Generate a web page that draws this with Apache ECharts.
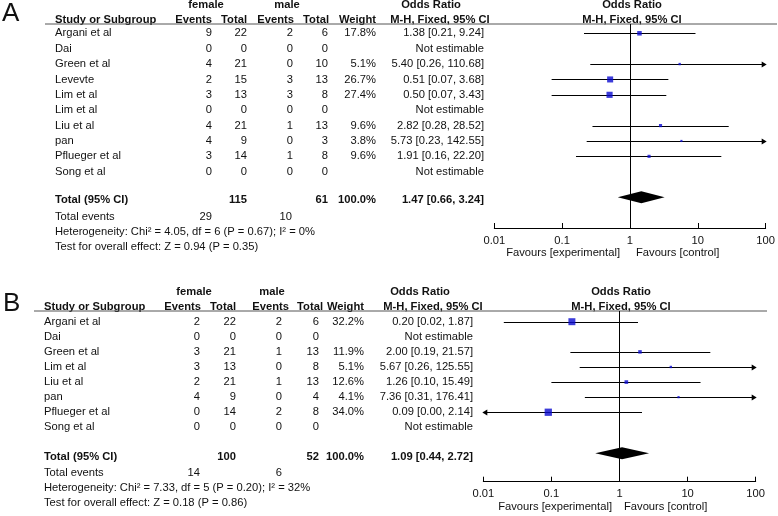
<!DOCTYPE html>
<html><head><meta charset="utf-8">
<script src="https://cdn.jsdelivr.net/npm/echarts@6/dist/echarts.min.js"></script>
<style>html,body{margin:0;padding:0;background:#fff}#c{width:778px;height:516px}</style>
</head><body><div id="c"></div>
<script>
// ---------- Panel A data ----------
const studiesA = ["Argani et al","Dai","Green et al","Levevte","Lim et al","Lim et al","Liu et al","pan","Pflueger et al","Song et al"];
const femEventsA = [9,0,4,2,3,0,4,4,3,0];
const femTotalA  = [22,0,21,15,13,0,21,9,14,0];
const maleEventsA = [2,0,0,3,3,0,1,0,1,0];
const maleTotalA  = [6,0,10,13,8,0,13,3,8,0];
const weightA = [17.8,null,5.1,26.7,27.4,null,9.6,3.8,9.6,null];
const orA = [1.38,null,5.40,0.51,0.50,null,2.82,5.73,1.91,null];
const loA = [0.21,null,0.26,0.07,0.07,null,0.28,0.23,0.16,null];
const hiA = [9.24,null,110.68,3.68,3.43,null,28.52,142.55,22.20,null];
const totalA = {fem:115, male:61, weight:100.0, or:1.47, lo:0.66, hi:3.24, evFem:29, evMale:10};
const hetA = "Heterogeneity: Chi\u00b2 = 4.05, df = 6 (P = 0.67); I\u00b2 = 0%";
const testA = "Test for overall effect: Z = 0.94 (P = 0.35)";

// ---------- Panel B data ----------
const studiesB = ["Argani et al","Dai","Green et al","Lim et al","Liu et al","pan","Pflueger et al","Song et al"];
const femEventsB = [2,0,3,3,2,4,0,0];
const femTotalB  = [22,0,21,13,21,9,14,0];
const maleEventsB = [2,0,1,0,1,0,2,0];
const maleTotalB  = [6,0,13,8,13,4,8,0];
const weightB = [32.2,null,11.9,5.1,12.6,4.1,34.0,null];
const orB = [0.20,null,2.00,5.67,1.26,7.36,0.09,null];
const loB = [0.02,null,0.19,0.26,0.10,0.31,0.00,null];
const hiB = [1.87,null,21.57,125.55,15.49,176.41,2.14,null];
const totalB = {fem:100, male:52, weight:100.0, or:1.09, lo:0.44, hi:2.72, evFem:14, evMale:6};
const hetB = "Heterogeneity: Chi\u00b2 = 7.33, df = 5 (P = 0.20); I\u00b2 = 32%";
const testB = "Test for overall effect: Z = 0.18 (P = 0.86)";

// axis tick values (log scale)
const tickLabels = [0.01, 0.1, 1, 10, 100];
const favLeft = "Favours [experimental]";
const favRight = "Favours [control]";

// ---------- layout (pixels / row units) ----------
const FONT = '"Liberation Sans", Arial, Helvetica, sans-serif';
const FS = 11.2;
const LA = {letter:'A', letterX:2, letterRow:-1.27,
  tableTop:0, tableH:258, row0:33.3, rowH:15.38,
  plotLeft:494.3, plotW:272.4, plotTop:24, plotBottom:228,
  hdr1:-1.84, hdr2:-0.865, totalRow:10.84, evRow:11.91, hetRow:12.9, testRow:13.88, favRow:14.28, diamondRow:10.66,
  nameX:55, fEvX:212, fTotX:247, mEvX:293, mTotX:328, wX:376, orX:484,
  hEv1:212, hTot1:247, hEv2:294, hTot2:329, hW:376,
  femC:206, maleC:287, orHdr1C:431, orHdr2C:440, fpHdrC:632,
  evFemX:212, evMaleX:292, favLX:620, favRX:636, ruleX1:45, ruleX2:777};
const LB = {letter:'B', letterX:3, letterRow:-1.17,
  tableTop:260, tableH:256, row0:321.7, rowH:15.09,
  plotLeft:483.3, plotW:272.4, plotTop:311, plotBottom:481.7,
  hdr1:-1.99, hdr2:-0.99, totalRow:8.99, evRow:10.05, hetRow:11.04, testRow:12.03, favRow:12.3, diamondRow:8.72,
  nameX:44, fEvX:200, fTotX:236, mEvX:282, mTotX:319, wX:364, orX:473,
  hEv1:201, hTot1:236, hEv2:289, hTot2:323, hW:364,
  femC:194, maleC:272, orHdr1C:420, orHdr2C:433, fpHdrC:621,
  evFemX:200, evMaleX:282, favLX:612, favRX:624, ruleX1:34, ruleX2:767};

const DA = {studies:studiesA, fEv:femEventsA, fTot:femTotalA, mEv:maleEventsA, mTot:maleTotalA, w:weightA, or:orA, lo:loA, hi:hiA, total:totalA, het:hetA, test:testA};
const DB = {studies:studiesB, fEv:femEventsB, fTot:femTotalB, mEv:maleEventsB, mTot:maleTotalB, w:weightB, or:orB, lo:loB, hi:hiB, total:totalB, het:hetB, test:testB};

function orText(e,l,h){ return e==null ? 'Not estimable' : e.toFixed(2)+' ['+l.toFixed(2)+', '+h.toFixed(2)+']'; }

function cells(d, L){
  const c = [];
  const add=(x,r,t,a,b,s)=>c.push({x:x,r:r,t:String(t),a:a,b:!!b,s:s||FS});
  add(L.letterX, L.letterRow, L.letter, 'left', false, 26);
  add(L.femC, L.hdr1, 'female','center',true);
  add(L.maleC, L.hdr1, 'male','center',true);
  add(L.orHdr1C, L.hdr1, 'Odds Ratio','center',true);
  add(L.fpHdrC, L.hdr1, 'Odds Ratio','center',true);
  add(L.nameX, L.hdr2, 'Study or Subgroup','left',true);
  add(L.hEv1, L.hdr2, 'Events','right',true);
  add(L.hTot1, L.hdr2, 'Total','right',true);
  add(L.hEv2, L.hdr2, 'Events','right',true);
  add(L.hTot2, L.hdr2, 'Total','right',true);
  add(L.hW, L.hdr2, 'Weight','right',true);
  add(L.orHdr2C, L.hdr2, 'M-H, Fixed, 95% CI','center',true);
  add(L.fpHdrC, L.hdr2, 'M-H, Fixed, 95% CI','center',true);
  d.studies.forEach((s,i)=>{
    add(L.nameX,i,s,'left');
    add(L.fEvX,i,d.fEv[i],'right');
    add(L.fTotX,i,d.fTot[i],'right');
    add(L.mEvX,i,d.mEv[i],'right');
    add(L.mTotX,i,d.mTot[i],'right');
    if (d.w[i]!=null) add(L.wX,i,d.w[i].toFixed(1)+'%','right');
    add(L.orX,i,orText(d.or[i],d.lo[i],d.hi[i]),'right');
  });
  const T = d.total;
  add(L.nameX, L.totalRow, 'Total (95% CI)','left',true);
  add(L.fTotX, L.totalRow, T.fem,'right',true);
  add(L.mTotX, L.totalRow, T.male,'right',true);
  add(L.wX, L.totalRow, T.weight.toFixed(1)+'%','right',true);
  add(L.orX, L.totalRow, orText(T.or,T.lo,T.hi),'right',true);
  add(L.nameX, L.evRow, 'Total events','left');
  add(L.evFemX, L.evRow, T.evFem,'right');
  add(L.evMaleX, L.evRow, T.evMale,'right');
  add(L.nameX, L.hetRow, d.het,'left');
  add(L.nameX, L.testRow, d.test,'left');
  add(L.favLX, L.favRow, favLeft,'right');
  add(L.favRX, L.favRow, favRight,'left');
  return c;
}

const grids=[], xAxes=[], yAxes=[], series=[];

function panel(d, L){
  // table grid
  const gi = grids.length;
  grids.push({left:0, width:778, top:L.tableTop, height:L.tableH, containLabel:false});
  xAxes.push({gridIndex:gi, type:'value', min:0, max:778, show:false});
  yAxes.push({gridIndex:gi, type:'value', inverse:true, show:false,
    min:(L.tableTop-L.row0)/L.rowH, max:(L.tableTop+L.tableH-L.row0)/L.rowH});
  const cs = cells(d, L);
  series.push({type:'custom', xAxisIndex:gi, yAxisIndex:gi, silent:true, clip:false,
    data: cs.map((c,i)=>[c.x,c.r,i]),
    renderItem:(params, api)=>{
      const c = cs[api.value(2)];
      const p = api.coord([c.x, c.r]);
      return {type:'text', x:p[0], y:p[1], style:{text:c.t, fill:'#111',
        font:(c.b?'bold ':'')+c.s+'px '+FONT, align:c.a, verticalAlign:'middle',
        textAlign:c.a, textVerticalAlign:'middle'}};
    }});
  const ruleRow = (L.plotTop-L.row0)/L.rowH;
  series.push({type:'line', xAxisIndex:gi, yAxisIndex:gi, silent:true, symbol:'none',
    data:[[L.ruleX1, ruleRow],[L.ruleX2, ruleRow]], lineStyle:{color:'#555', width:1}});

  // forest grid
  const fi = grids.length;
  grids.push({left:L.plotLeft, width:L.plotW, top:L.plotTop, height:L.plotBottom-L.plotTop, containLabel:false});
  xAxes.push({gridIndex:fi, type:'log', logBase:10, position:'bottom',
    min:tickLabels[0], max:tickLabels[tickLabels.length-1],
    axisLine:{show:true, onZero:false, lineStyle:{color:'#000', width:1}},
    axisTick:{show:true, inside:true, length:5, lineStyle:{color:'#000'}},
    splitLine:{show:false},
    axisLabel:{show:true, margin:7, color:'#111', fontSize:FS, fontFamily:FONT,
      formatter:(v)=>String(parseFloat(Number(v).toPrecision(3)))}});
  yAxes.push({gridIndex:fi, type:'value', inverse:true, show:false,
    min:(L.plotTop-L.row0)/L.rowH, max:(L.plotBottom-L.row0)/L.rowH});
  const idx = d.or.map((v,i)=>i).filter(i=>d.or[i]!=null);
  const xmin = tickLabels[0], xmax = tickLabels[tickLabels.length-1];
  // CI lines
  series.push({type:'custom', xAxisIndex:fi, yAxisIndex:fi, silent:true, clip:false, z:2,
    data: idx.map(i=>[d.or[i], i, i]),
    renderItem:(params, api)=>{
      const i = api.value(2);
      const y = Math.round(api.coord([1,i])[1])+0.5;
      const x1 = api.coord([Math.max(d.lo[i], xmin), i])[0];
      const x2 = api.coord([Math.min(d.hi[i], xmax), i])[0];
      const ch = [{type:'line', shape:{x1:x1,y1:y,x2:x2,y2:y}, style:{stroke:'#000', lineWidth:1}}];
      if (d.hi[i] > xmax) ch.push({type:'polygon', shape:{points:[[x2+1,y],[x2-4,y-3],[x2-4,y+3]]}, style:{fill:'#000'}});
      if (d.lo[i] < xmin) ch.push({type:'polygon', shape:{points:[[x1-1,y],[x1+4,y-3],[x1+4,y+3]]}, style:{fill:'#000'}});
      return {type:'group', children:ch};
    }});
  // squares
  series.push({type:'scatter', xAxisIndex:fi, yAxisIndex:fi, silent:true, z:3,
    symbol:'rect', symbolSize:(v)=>1.5+0.17*v[2],
    itemStyle:{color:'#0a0ad0'},
    data: idx.map(i=>[d.or[i], i, d.w[i]]),
    markLine:{silent:true, symbol:['none','none'], label:{show:false},
      lineStyle:{color:'#000', width:1, type:'solid'}, emphasis:{disabled:true},
      data:[{xAxis:1}]}});
  // diamond
  series.push({type:'custom', xAxisIndex:fi, yAxisIndex:fi, silent:true, clip:false, z:4,
    data:[[d.total.or, L.diamondRow]],
    renderItem:(params, api)=>{
      const r = api.value(1);
      const c = api.coord([d.total.or, r]);
      const l = api.coord([d.total.lo, r]);
      const h = api.coord([d.total.hi, r]);
      return {type:'polygon', shape:{points:[[l[0],c[1]],[c[0],c[1]-6],[h[0],c[1]],[c[0],c[1]+6]]}, style:{fill:'#000'}};
    }});
}

panel(DA, LA);
panel(DB, LB);

const chart = echarts.init(document.getElementById('c'), null, {renderer:'canvas'});
chart.setOption({animation:false, backgroundColor:'#fff', grid:grids, xAxis:xAxes, yAxis:yAxes, series:series});
</script>
</body></html>
